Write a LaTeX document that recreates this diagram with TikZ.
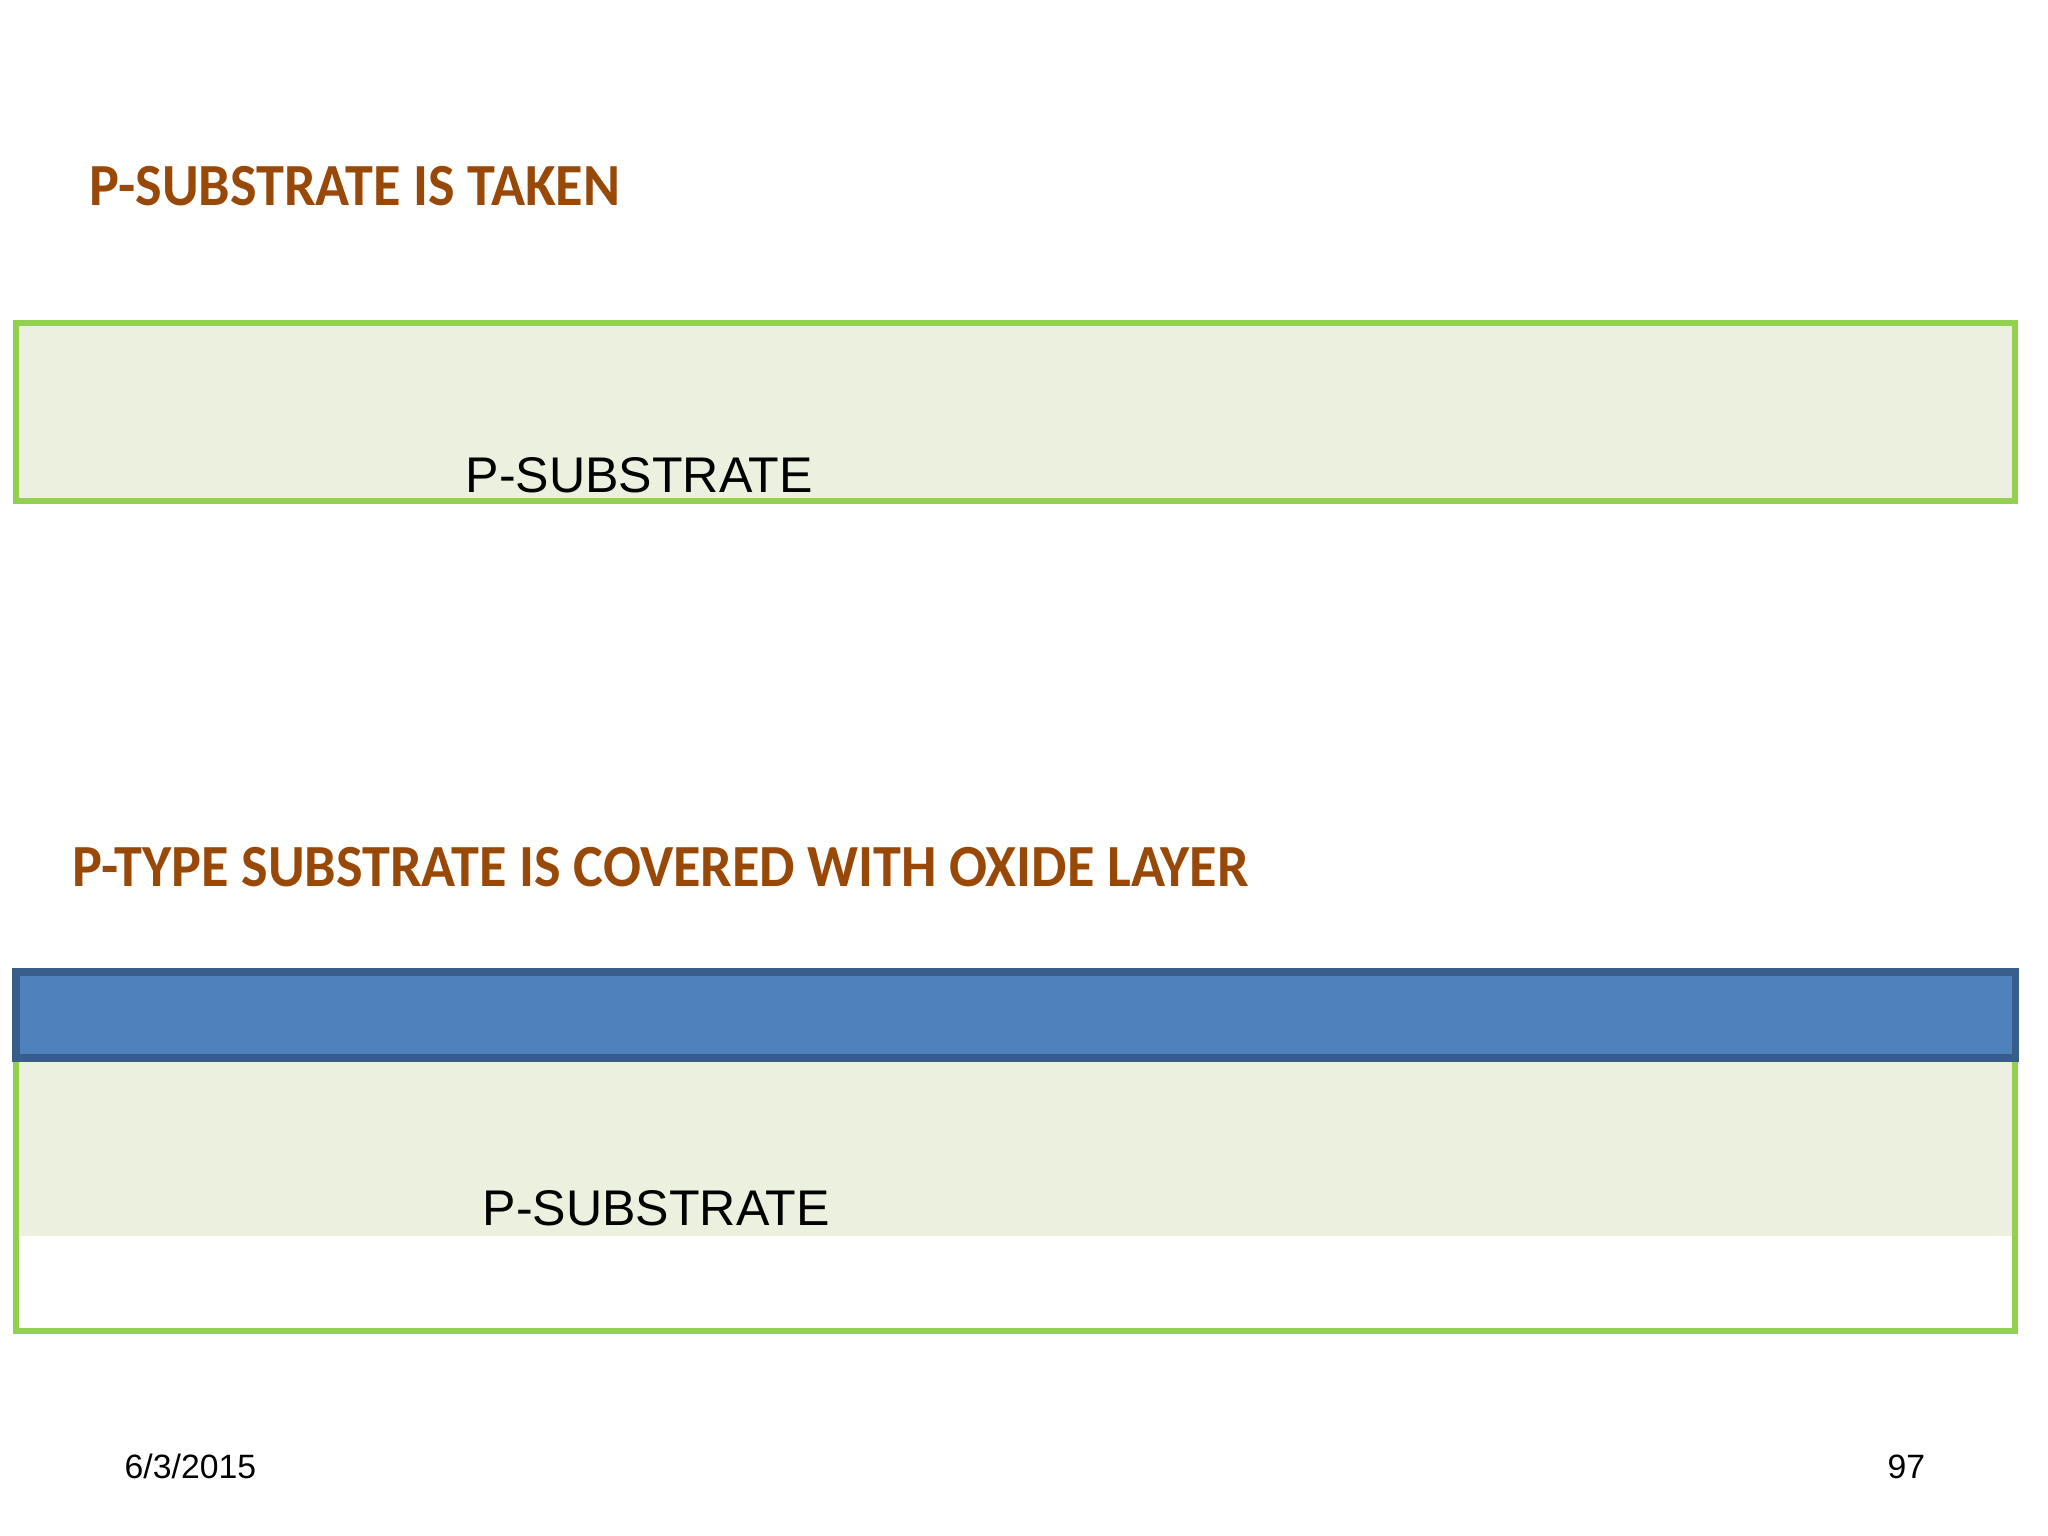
\documentclass[tikz,border=0pt]{standalone}
\usepackage{fontspec}
\setmainfont{Liberation Sans}
\newfontfamily\headfont[FakeStretch=0.94]{Carlito}
\definecolor{headbrown}{HTML}{984807}
\definecolor{subfill}{HTML}{EBF1DE}
\definecolor{subline}{HTML}{92D050}
\definecolor{oxfill}{HTML}{4F81BD}
\definecolor{oxline}{HTML}{385D8A}

\begin{document}
\begin{tikzpicture}[x=0.01cm, y=-0.01cm,
  head/.style={anchor=base west, inner sep=0pt, text=headbrown,
               font=\headfont\bfseries\fontsize{17}{20}\selectfont},
  lbl/.style={anchor=base west, inner sep=0pt, font=\fontsize{14.25}{17}\selectfont},
  foot/.style={anchor=base west, inner sep=0pt, font=\fontsize{9.6}{11}\selectfont},
  sub/.style={draw=subline, line width=1.8pt, fill=subfill},
  oxide/.style={draw=oxline, line width=2pt, fill=oxfill}]

  \useasboundingbox (0,0) rectangle (2048,1536);

  % step 1: bare substrate
  \node[head] (title1) at (89,205) {P-SUBSTRATE IS TAKEN};
  \draw[sub] (16,323) rectangle (2015,501);
  \node[lbl] (sub1) at (465,492) {P-SUBSTRATE};

  % step 2: oxide on top of substrate
  \node[head] (title2) at (72,886) {P-TYPE SUBSTRATE IS COVERED WITH OXIDE LAYER};
  \fill[subfill] (16,1058) rectangle (2015,1236);
  \draw[subline, line width=1.8pt] (16,1058) rectangle (2015,1331);
  \draw[oxide] (16,972) rectangle (2015,1058);
  \node[lbl] (sub2) at (482,1225) {P-SUBSTRATE};

  \node[foot] (date) at (124,1478) {6/3/2015};
  \node[foot] (page) at (1887,1478) {97};
\end{tikzpicture}
\end{document}
